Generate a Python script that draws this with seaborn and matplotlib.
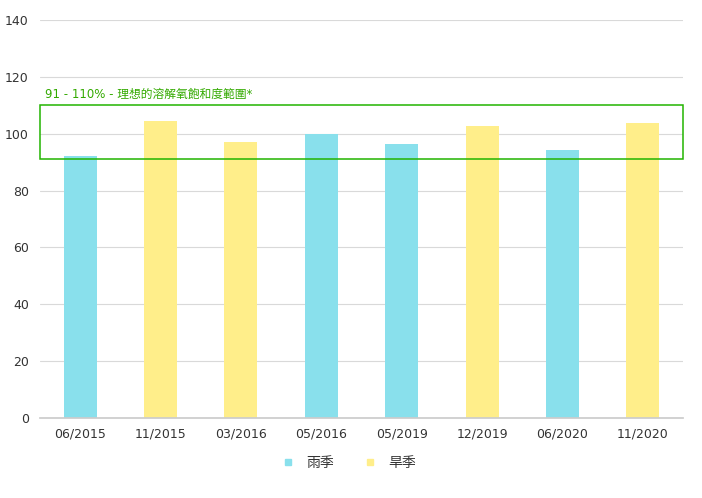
import matplotlib
matplotlib.use('Agg')
import matplotlib.pyplot as plt
import matplotlib.patches as mpatches
import seaborn as sns
import pandas as pd

# data
dates = ['06/2015', '11/2015', '03/2016', '05/2016', '05/2019', '12/2019', '06/2020', '11/2020']
seasons = ['雨季', '旱季', '旱季', '雨季', '雨季', '旱季', '雨季', '旱季']
saturation = [92.2, 104.5, 97.1, 99.9, 96.4, 102.7, 94.3, 103.8]
range_low, range_high = 91, 110
season_names = ['雨季', '旱季']
season_colors = ['#89e0ec', '#ffee8a']

df = pd.DataFrame({'date': dates, 'season': seasons, 'value': saturation})

sns.set_theme(style='white')
plt.rcParams['font.family'] = ['DejaVu Sans', 'Noto Sans CJK TC']

fig = plt.figure(figsize=(7.02, 4.98), dpi=100)
ax = fig.add_axes([40 / 702, 80 / 498, 643 / 702, 398 / 498])

sns.barplot(data=df, x='date', y='value', hue='season', hue_order=season_names,
            palette=season_colors, dodge=False, width=0.41, ax=ax, legend=False,
            saturation=1, linewidth=0, zorder=2)

ax.set_ylim(0, 140)
ax.set_yticks(range(0, 141, 20))
ax.set_xlim(-0.5, len(dates) - 0.5)
ax.grid(axis='y', color='#d9d9d9', linewidth=0.8, zorder=0)
ax.set_axisbelow(True)
for s in ['top', 'right', 'left']:
    ax.spines[s].set_visible(False)
ax.spines['bottom'].set_color('#cccccc')
ax.tick_params(axis='both', length=0, labelsize=9, colors='#333333', pad=8)
ax.tick_params(axis='x', pad=7)
ax.set_xlabel('')
ax.set_ylabel('')

# ideal range box
rect = mpatches.Rectangle((-0.5, range_low), len(dates), range_high - range_low,
                          fill=False, edgecolor='#22b400', linewidth=1.1, zorder=3,
                          clip_on=False)
ax.add_patch(rect)
ax.text(-0.44, range_high + 1.5, '91 - 110% - 理想的溶解氧飽和度範圍*',
        color='#33aa00', fontsize=8.5, va='bottom', ha='left')

handles = [plt.Line2D([], [], marker='s', linestyle='', markersize=5,
                      markerfacecolor=c, markeredgecolor=c) for c in season_colors]
fig.legend(handles, season_names, loc='center', bbox_to_anchor=(345 / 702, 1 - 463 / 498),
           ncol=2, frameon=False, fontsize=10, handletextpad=0.3, columnspacing=1.6,
           labelcolor='#333333')

fig.savefig('out.png', dpi=100)
